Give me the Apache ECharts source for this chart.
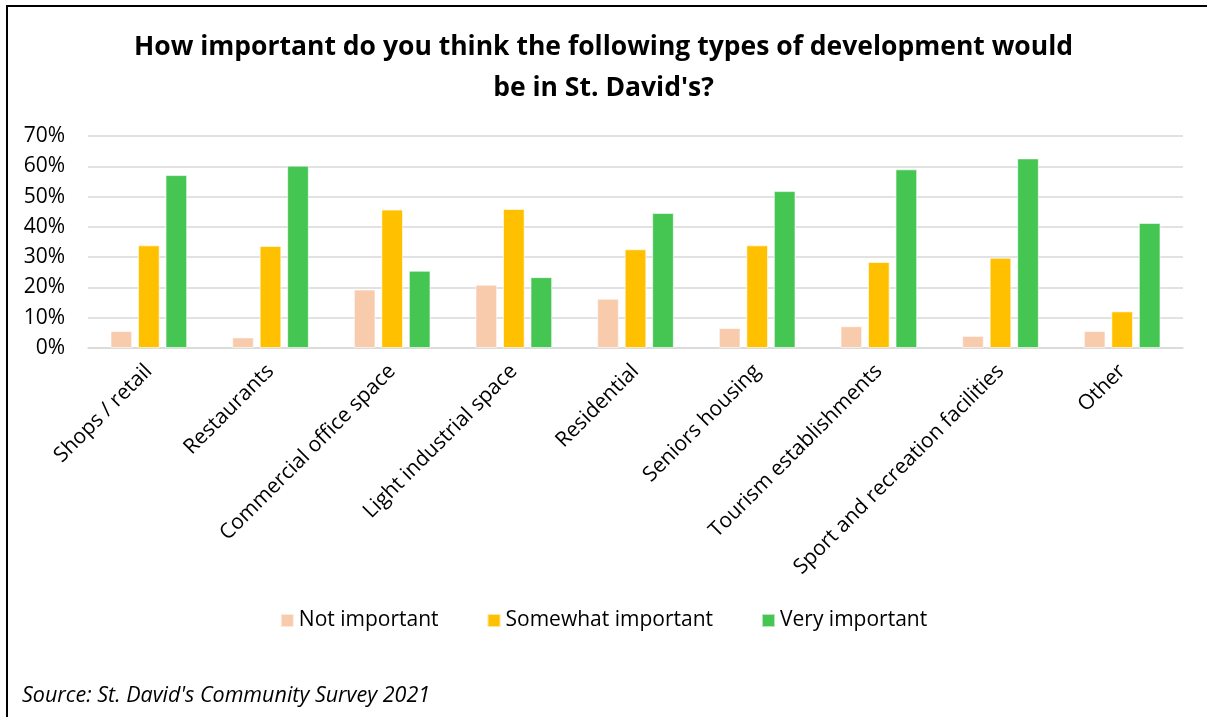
<!DOCTYPE html>
<html>
<head>
<meta charset="utf-8">
<script src="https://cdn.jsdelivr.net/npm/echarts@6/dist/echarts.min.js"></script>
<style>
html,body{margin:0;padding:0;background:#fff;}
#chart{width:1207px;height:717px;}
</style>
</head>
<body>
<div id="chart"></div>
<script>
const categories = ["Shops / retail","Restaurants","Commercial office space","Light industrial space","Residential","Seniors housing","Tourism establishments","Sport and recreation facilities","Other"];
const notImportant = [5.6, 3.5, 19.3, 20.9, 16.3, 6.6, 7.2, 4.0, 5.6];
const somewhatImportant = [33.9, 33.7, 45.7, 45.9, 32.6, 33.9, 28.4, 29.8, 12.1];
const veryImportant = [57.1, 60.2, 25.5, 23.4, 44.6, 51.8, 59.0, 62.6, 41.3];
const seriesNames = ["Not important","Somewhat important","Very important"];
const yTicks = [0,10,20,30,40,50,60,70];
const titleLines = ["How important do you think the following types of development would", "be in St. David's?"];
const sourceText = "Source: St. David's Community Survey 2021";

const FONT = '"Open Sans", sans-serif';
const chart = echarts.init(document.getElementById('chart'), null, {renderer:'canvas'});
const colors = ['#F8CBAD','#FFC000','#45C552'];
const mk = (name, data, i) => ({
  name, type:'bar', data,
  itemStyle:{color:colors[i], borderColor:'rgba(255,255,255,0.6)', borderWidth:1},
  barGap:'27%', barCategoryGap:'37%'
});
const titleStyle = {fontFamily:FONT, fontWeight:'bold', fontSize:26.5, color:'#000'};
chart.setOption({
  animation:false,
  backgroundColor:'#fff',
  title:[
    {text:titleLines[0], left:'center', top:29, textStyle:titleStyle},
    {text:titleLines[1], left:'center', top:70, textStyle:titleStyle}
  ],
  grid:{left:88, right:24, top:136, bottom:369, containLabel:false},
  legend:{
    data:seriesNames, top:605, left:'center',
    itemWidth:13, itemHeight:13, itemGap:48, icon:'rect',
    textStyle:{fontFamily:FONT, fontSize:21, color:'#000'}
  },
  xAxis:{
    type:'category', data:categories,
    axisLine:{show:true, lineStyle:{color:'#d9d9d9', width:1.5}},
    axisTick:{show:false},
    axisLabel:{rotate:45, fontFamily:FONT, fontSize:21, color:'#000', margin:20, interval:0}
  },
  yAxis:{
    type:'value', min:yTicks[0], max:yTicks[yTicks.length-1], interval:10,
    axisLine:{show:false}, axisTick:{show:false},
    splitLine:{lineStyle:{color:'#d9d9d9', width:1.5}},
    axisLabel:{formatter:v=>v+'%', fontFamily:FONT, fontSize:21, color:'#000', margin:23}
  },
  series:[mk(seriesNames[0], notImportant, 0), mk(seriesNames[1], somewhatImportant, 1), mk(seriesNames[2], veryImportant, 2)],
  graphic:[
    {type:'polyline', shape:{points:[[7,730],[7,6],[1220,6]]}, style:{stroke:'#000', lineWidth:2, fill:null}},
    {type:'text', left:22, top:685, style:{text:sourceText, fontFamily:FONT, fontStyle:'italic', fontSize:21.5, fill:'#000'}}
  ]
});
</script>
</body>
</html>
